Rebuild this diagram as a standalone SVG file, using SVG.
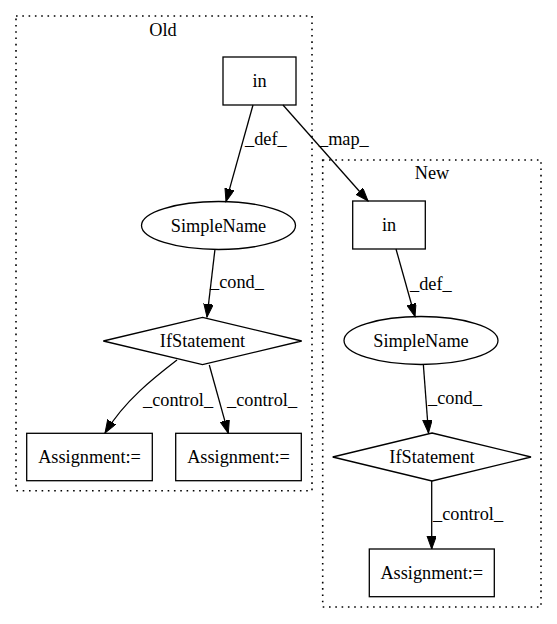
<svg xmlns="http://www.w3.org/2000/svg" width="557" height="624" viewBox="0 0 557 624">
<style>
text{font-family:"Liberation Serif","Times New Roman",serif;font-size:18.3px;fill:#000}
.n{text-anchor:middle}
.shape{fill:none;stroke:#000;stroke-width:1.3}
.cl{fill:none;stroke:#000;stroke-width:1.6;stroke-dasharray:1.6,4.7}
.e{fill:none;stroke:#000;stroke-width:1.3}
</style>
<defs>
<marker id="ah" markerUnits="userSpaceOnUse" markerWidth="14" markerHeight="10" refX="13" refY="4.7" orient="auto">
<path d="M0,0 L13,4.7 L0,9.4 z" fill="#000" stroke="#000" stroke-width="1"/>
</marker>
</defs>
<g id="cluster_old">
<rect class="cl" x="16" y="16" width="296" height="474.7"/>
<text class="n" x="163" y="36">Old</text>
</g>
<g id="cluster_new">
<rect class="cl" x="322.7" y="160" width="218.3" height="447"/>
<text class="n" x="432" y="179">New</text>
</g>
<g id="edges">
<path class="e" d="M253,105 L226,201.7" marker-end="url(#ah)"/>
<text x="245" y="145">_def_</text>
<path class="e" d="M283,105 L368,201" marker-end="url(#ah)"/>
<text x="319" y="145">_map_</text>
<path class="e" d="M215,249 L207,317" marker-end="url(#ah)"/>
<text x="210" y="288">_cond_</text>
<path class="e" d="M177,360 C155,377 125,400 105,433" marker-end="url(#ah)"/>
<text x="143" y="406">_control_</text>
<path class="e" d="M209.3,365 L228.3,433.3" marker-end="url(#ah)"/>
<text x="227" y="406">_control_</text>
<path class="e" d="M396,249 L415,316.7" marker-end="url(#ah)"/>
<text x="410" y="290">_def_</text>
<path class="e" d="M423.3,364 L428.5,433" marker-end="url(#ah)"/>
<text x="428" y="404">_cond_</text>
<path class="e" d="M431.7,481 L431.7,549" marker-end="url(#ah)"/>
<text x="433" y="520">_control_</text>
</g>
<g id="old_in">
<rect class="shape" x="223" y="57" width="73" height="48"/>
<text class="n" x="259.5" y="87">in</text>
</g>
<g id="old_simplename">
<ellipse class="shape" cx="218.5" cy="225.5" rx="77" ry="24"/>
<text class="n" x="218.5" y="231.5">SimpleName</text>
</g>
<g id="old_if">
<polygon class="shape" points="202.5,317.3 301.7,341 202.5,364.7 103.3,341"/>
<text class="n" x="202.5" y="347">IfStatement</text>
</g>
<g id="old_assign1">
<rect class="shape" x="26.7" y="433.3" width="125.6" height="47.4"/>
<text class="n" x="89.5" y="463">Assignment:=</text>
</g>
<g id="old_assign2">
<rect class="shape" x="175.7" y="433.3" width="125.6" height="47.4"/>
<text class="n" x="238.5" y="463">Assignment:=</text>
</g>
<g id="new_in">
<rect class="shape" x="352.7" y="201" width="72.6" height="48"/>
<text class="n" x="389" y="231">in</text>
</g>
<g id="new_simplename">
<ellipse class="shape" cx="421" cy="340.5" rx="77" ry="24"/>
<text class="n" x="421" y="346.5">SimpleName</text>
</g>
<g id="new_if">
<polygon class="shape" points="432,433 531,457 432,481 332.7,457"/>
<text class="n" x="432" y="463">IfStatement</text>
</g>
<g id="new_assign">
<rect class="shape" x="369.3" y="549" width="125" height="47.7"/>
<text class="n" x="431.8" y="579">Assignment:=</text>
</g>
</svg>
